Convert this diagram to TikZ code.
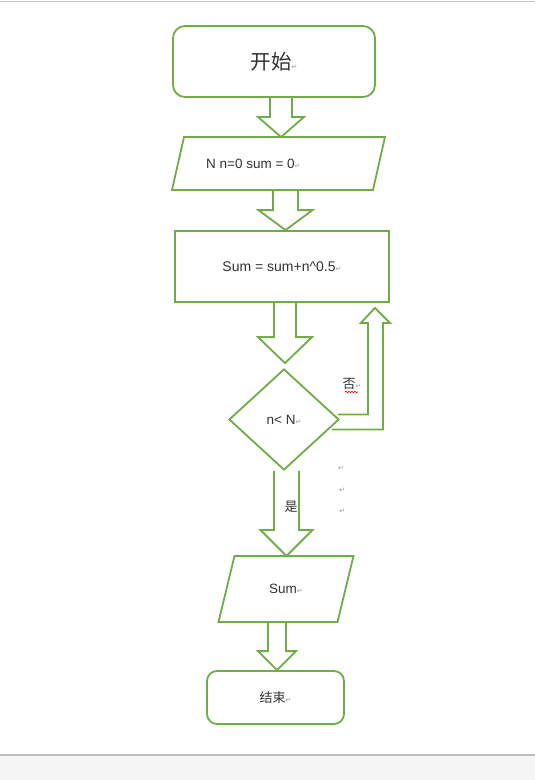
\documentclass[tikz,border=0pt]{standalone}
\usepackage{fontspec}
\setmainfont{Liberation Sans}
\newfontfamily\cjk{Noto Sans CJK SC}
\newfontfamily\pmfont{DejaVu Sans}
\usetikzlibrary{shapes.geometric,calc,decorations.pathmorphing}
\definecolor{flowgreen}{HTML}{70AD47}
\definecolor{flowtext}{HTML}{333333}
\newcommand{\pmark}{{\pmfont\color{black!40}\fontsize{7}{7}\selectfont ↵}}
% block arrow: start, tip, shaft half width, head half width, head length
\newcommand{\blockarrow}[5]{%
  \draw[barrow] let \p1=#1, \p2=#2 in
    (\x1-#3pt,\y1) -- (\x1-#3pt,\y2+#5pt) -- (\x1-#4pt,\y2+#5pt) -- (\x1,\y2)
    -- (\x1+#4pt,\y2+#5pt) -- (\x1+#3pt,\y2+#5pt) -- (\x1+#3pt,\y1);}
% parallelogram round a node: name, half slant
\newcommand{\ioframe}[2]{%
  \draw[barrow] ([xshift=#2]#1.north west) -- ([xshift=#2]#1.north east)
    -- ([xshift=-#2]#1.south east) -- ([xshift=-#2]#1.south west) -- cycle;}

\begin{document}
\begin{tikzpicture}[x=1pt, y=-1pt,
  every node/.style={text=flowtext, font=\fontsize{13.5}{16}\selectfont},
  barrow/.style={draw=flowgreen, line width=1.8pt, line join=miter},
  term/.style={draw=flowgreen, line width=1.8pt, rounded corners=12pt, inner sep=0pt},
  io/.style={rectangle, inner sep=0pt, outer sep=0pt},
  proc/.style={draw=flowgreen, line width=1.8pt, rectangle, inner sep=0pt},
  cond/.style={draw=flowgreen, line width=1.8pt, diamond, inner sep=0pt}]
% page
\useasboundingbox (0,0) rectangle (535,780);
\fill[white] (0,0) rectangle (535,780);
\fill[black!4] (0,756) rectangle (535,780);
\draw[black!22, line width=1.2pt] (0,1.5) -- (535,1.5);
\draw[black!25, line width=1.2pt] (0,755) -- (535,755);

\node (start) at (274,61.5) [term, minimum width=202, minimum height=71] {\cjk\fontsize{20.5}{24}\selectfont 开始\pmark};

\node (in1) at (278.5,163.5) [io, minimum width=201, minimum height=53] {};
	\ioframe{in1}{6}
	\node (in1t) at (206,163.5) [anchor=west, inner sep=0pt] {N n=0 sum = 0\pmark};

\node (calc) at (282,266.5) [proc, minimum width=214, minimum height=71] {\fontsize{14}{16}\selectfont Sum = sum+n\^{}0.5\pmark};

\node (test) at (284,419.5) [cond, minimum width=110, minimum height=101] {n< N\pmark};
	\node (no) at (352,384) {\cjk\fontsize{13}{15}\selectfont 否\pmark};
	\draw[red!85!black, line width=0.6pt, decorate, decoration={snake, amplitude=0.8pt, segment length=3pt}] (345,392) -- (358,392);
	\node (yes) at (291,507) {\cjk\fontsize{13}{15}\selectfont 是};

\node (out) at (286,589) [io, minimum width=119, minimum height=66] {Sum\pmark};
	\ioframe{out}{8}

\node (stop) at (275.5,697.5) [term, rounded corners=10pt, minimum width=137, minimum height=53] {\cjk\fontsize{13}{15}\selectfont 结束\pmark};

% stray paragraph marks
\node (pm1) at (341,468) {\pmark};
\node (pm2) at (342,490) {\pmark};
\node (pm3) at (342,511) {\pmark};

% arrows
\blockarrow{([xshift=7]start.south)}{(in1.north)}{11}{23}{20}
\blockarrow{([xshift=7]in1.south)}{(calc.north)}{12.5}{27}{20}
\blockarrow{([xshift=3]calc.south)}{([yshift=5]test.north)}{11}{27}{26}
\blockarrow{([xshift=2.5]test.south)}{(out.north)}{12.5}{26}{26}
\blockarrow{([xshift=-9]out.south)}{(stop.north)}{9}{19}{19}

% loop back
\coordinate (notip) at ($(calc.south east)+(-15,5)$);
\draw[barrow] ($(test.east)+(-2,-5)$) -| ($(notip)+(-7,15)$) -- ++(-7,0) -- (notip)
	-- ($(notip)+(15,15)$) -- ++(-7,0) |- ($(test.east)+(-8,10)$);
\end{tikzpicture}
\end{document}
